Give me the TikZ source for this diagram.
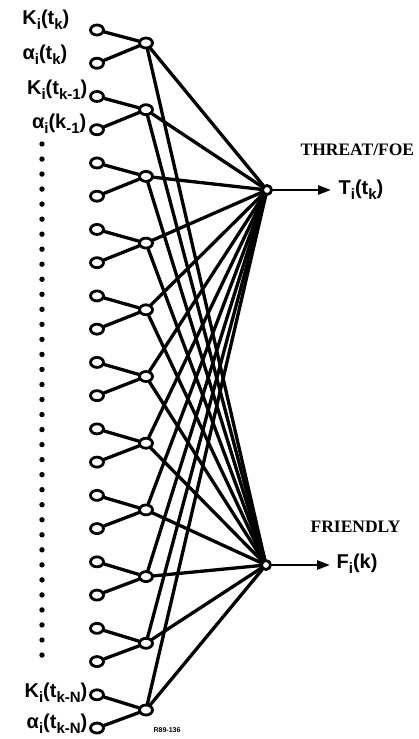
\documentclass[tikz,border=0pt]{standalone}
\usepackage{fontspec}
\usetikzlibrary{arrows.meta,shapes.geometric}
\newfontfamily\lblsans{Liberation Sans}
\newfontfamily\capserif{Liberation Serif}
\newcommand{\lo}[1]{\raisebox{-0.5ex}{\fontsize{15}{15}\selectfont #1}}

\begin{document}
\begin{tikzpicture}[x=1pt, y=-1pt, line width=3.3pt, line cap=round, line join=round,
  inp/.style={draw, shape=ellipse, fill=white, inner sep=0pt, minimum width=13pt, minimum height=10pt, line width=2.8pt},
  hid/.style={draw, shape=ellipse, fill=white, inner sep=0pt, minimum width=13pt, minimum height=10pt, line width=2.8pt},
  outn/.style={draw, circle, fill=white, inner sep=0pt, minimum size=9pt, line width=2.8pt},
  lbl/.style={inner sep=0pt, font=\lblsans\bfseries\fontsize{20}{23}\selectfont},
  cls/.style={inner sep=0pt, font=\capserif\bfseries\fontsize{17.5}{20}\selectfont}]

  %% ════ nodes ════
  \foreach \j in {0,...,21}
    \node[inp] (in\j) at (97,{30+33.24*\j}) {};
  \foreach \m in {0,...,10}
    \node[hid] (h\m) at (146,{43+66.7*\m}) {};
  \node[outn] (T) at (267,190) {};
  \node[outn] (F) at (266,565) {};

  %% ════ connectors ════
  \foreach \m in {0,...,10} {
    \pgfmathtruncatemacro\a{2*\m}
    \pgfmathtruncatemacro\b{2*\m+1}
    \draw (in\a) -- (h\m);
    \draw (in\b) -- (h\m);
    \draw (h\m) -- (T);
    \draw (h\m) -- (F);
  }

  %% ════ outputs ════
  \coordinate (Tend) at (331,190);
  \coordinate (Fend) at (330,565);
  \draw[line width=2.6pt, -{Triangle[length=13pt,width=9pt]}] (T) -- (Tend);
  \draw[line width=2.6pt, -{Triangle[length=13pt,width=9pt]}] (F) -- (Fend);
  \node[lbl, anchor=west] (Tlbl) at (337,190) {T\lo{i}(t\lo{k})};
  \node[lbl, anchor=west] (Flbl) at (335,564) {F\lo{i}(k)};
  \node[cls, anchor=west] (threat) at (299,150) {THREAT/FOE};
  \node[cls, anchor=west] (friendly) at (309,527) {FRIENDLY};

  %% ════ input labels ════
  \node[lbl, anchor=east] (la0) at (71,20) {K\lo{i}(t\lo{k})};
  \node[lbl, anchor=east] (la1) at (69,55) {α\lo{i}(t\lo{k})};
  \node[lbl, anchor=east] (la2) at (89,90) {K\lo{i}(t\lo{k-1})};
  \node[lbl, anchor=east] (la3) at (88,124) {α\lo{i}(k\lo{-1})};
  \node[lbl, anchor=east] (la20) at (89,693) {K\lo{i}(t\lo{k-N})};
  \node[lbl, anchor=east] (la21) at (89,724) {α\lo{i}(t\lo{k-N})};

  %% ════ dots ════
  \foreach \d in {0,...,34}
    \fill (42,{144+15.03*\d}) circle (2.7);

  \node[inner sep=0pt, anchor=west, font=\lblsans\bfseries\fontsize{7}{8}\selectfont] (tag) at (152,730) {R89-136};

  \pgfresetboundingbox
  \path[use as bounding box] (0,0) rectangle (419,739);
\end{tikzpicture}
\end{document}
